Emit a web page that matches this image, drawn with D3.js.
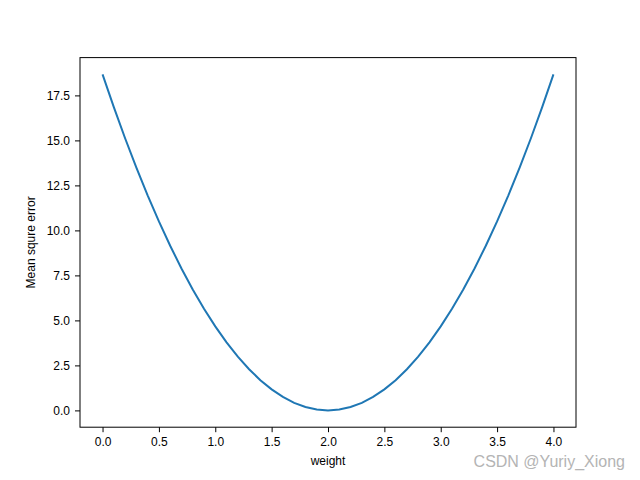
<!DOCTYPE html>
<html>
<head>
<meta charset="utf-8">
<script src="https://cdn.jsdelivr.net/npm/d3@7"></script>
<style>
  body { margin: 0; background: #fff; }
  text { font-family: "Liberation Sans", Arial, sans-serif; }
</style>
</head>
<body>
<svg id="chart" width="640" height="480"></svg>
<script>
// weight values and the mean square error
const weights = [0.0, 0.1, 0.2, 0.3, 0.4, 0.5, 0.6, 0.7, 0.8, 0.9, 1.0,
                 1.1, 1.2, 1.3, 1.4, 1.5, 1.6, 1.7, 1.8, 1.9, 2.0,
                 2.1, 2.2, 2.3, 2.4, 2.5, 2.6, 2.7, 2.8, 2.9, 3.0,
                 3.1, 3.2, 3.3, 3.4, 3.5, 3.6, 3.7, 3.8, 3.9, 4.0];
const mse = [18.667, 16.847, 15.120, 13.487, 11.947, 10.500, 9.147, 7.887, 6.720, 5.647, 4.667,
             3.780, 2.987, 2.287, 1.680, 1.167, 0.747, 0.420, 0.187, 0.047, 0.000,
             0.047, 0.187, 0.420, 0.747, 1.167, 1.680, 2.287, 2.987, 3.780, 4.667,
             5.647, 6.720, 7.887, 9.147, 10.500, 11.947, 13.487, 15.120, 16.847, 18.667];
const xTicks = [0.0, 0.5, 1.0, 1.5, 2.0, 2.5, 3.0, 3.5, 4.0];
const yTicks = [0.0, 2.5, 5.0, 7.5, 10.0, 12.5, 15.0, 17.5];

const svg = d3.select('#chart');
const plotLeft = 80, plotRight = 576, plotTop = 57.6, plotBottom = 427.2;

const x = d3.scaleLinear().domain([-0.2, 4.2]).range([plotLeft, plotRight]);
const y = d3.scaleLinear().domain([-0.9333, 19.6]).range([plotBottom, plotTop]);

// x axis
const gx = svg.append('g')
    .attr('transform', `translate(0,${plotBottom})`)
    .call(d3.axisBottom(x).tickValues(xTicks).tickFormat(d3.format('.1f')).tickSize(5).tickPadding(5));
// y axis
const gy = svg.append('g')
    .attr('transform', `translate(${plotLeft},0)`)
    .call(d3.axisLeft(y).tickValues(yTicks).tickFormat(d3.format('.1f')).tickSize(5).tickPadding(5));

[gx, gy].forEach(g => {
    g.select('.domain').remove();
    g.selectAll('line').attr('stroke', '#000').attr('stroke-width', 1);
    g.selectAll('text').attr('font-size', 12).attr('fill', '#000')
        .style('font-family', '"Liberation Sans", Arial, sans-serif');
});

// frame
svg.append('rect')
    .attr('x', plotLeft).attr('y', plotTop)
    .attr('width', plotRight - plotLeft).attr('height', plotBottom - plotTop)
    .attr('fill', 'none').attr('stroke', '#000').attr('stroke-width', 1);

// curve
const line = d3.line()
    .x((d, i) => x(weights[i]))
    .y(d => y(d));
svg.append('path')
    .datum(mse)
    .attr('d', line)
    .attr('fill', 'none')
    .attr('stroke', '#1f77b4')
    .attr('stroke-width', 2);

// axis labels
svg.append('text')
    .attr('x', (plotLeft + plotRight) / 2).attr('y', 465)
    .attr('text-anchor', 'middle').attr('font-size', 12)
    .text('weight');
svg.append('text')
    .attr('transform', `translate(35,${(plotTop + plotBottom) / 2}) rotate(-90)`)
    .attr('text-anchor', 'middle').attr('font-size', 12)
    .text('Mean squre error');

// watermark
svg.append('text')
    .attr('x', 625).attr('y', 467)
    .attr('text-anchor', 'end').attr('font-size', 16)
    .attr('fill', '#b4b4b4')
    .text('CSDN @Yuriy_Xiong');
</script>
</body>
</html>
